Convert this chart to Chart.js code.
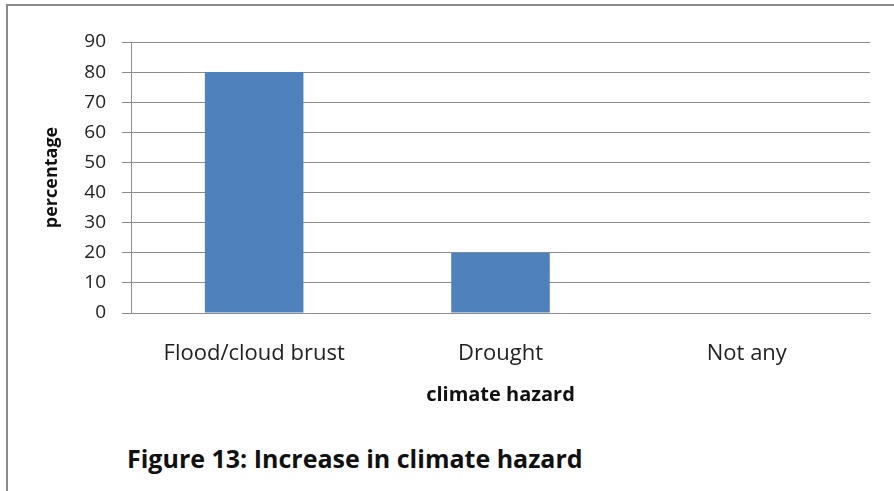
<!DOCTYPE html>
<html>
<head>
<meta charset="utf-8">
<title>Increase in climate hazard</title>
<script src="https://cdn.jsdelivr.net/npm/chart.js@4.4.0/dist/chart.umd.min.js"></script>
<style>
    html, body {
        margin: 0;
        padding: 0;
        background: #fff;
        width: 894px;
        height: 491px;
        overflow: hidden;
    }
    .frame {
        position: absolute;
        left: 6px;
        top: 4px;
        width: 900px;
        height: 500px;
        border-top: 2px solid #8a8a8a;
        border-left: 2px solid #8a8a8a;
    }
    .chart-box {
        position: absolute;
        left: 0;
        top: 0;
        width: 894px;
        height: 420px;
    }
    .caption {
        position: absolute;
        left: 127px;
        top: 446px;
        line-height: 25px;
        font-family: "Open Sans", sans-serif;
        font-weight: bold;
        font-size: 25px;
        color: #111;
        white-space: nowrap;
    }
</style>
</head>
<body>
<div class="frame"></div>
<div class="chart-box">
    <canvas id="hazardChart" width="894" height="420"></canvas>
</div>
<div class="caption">Figure 13: Increase in climate hazard</div>

<script>
const categories = ['Flood/cloud brust', 'Drought', 'Not any'];
const percentages = [80, 20, 0];
const yTicks = [0, 10, 20, 30, 40, 50, 60, 70, 80, 90];

const barColor = '#4F81BD';
const gridColor = '#8c8c8c';
const fontFamily = '"Open Sans", sans-serif';

function createHazardChart() {
    const ctx = document.getElementById('hazardChart').getContext('2d');

    new Chart(ctx, {
        type: 'bar',
        data: {
            labels: categories,
            datasets: [{
                label: 'percentage',
                data: percentages,
                backgroundColor: barColor,
                borderWidth: 0,
                categoryPercentage: 1,
                barPercentage: 0.4
            }]
        },
        options: {
            responsive: false,
            animation: false,
            events: [],
            layout: {
                padding: { top: 42, right: 24, bottom: 9, left: 37 }
            },
            plugins: {
                legend: { display: false },
                tooltip: { enabled: false }
            },
            scales: {
                x: {
                    grid: { display: false },
                    border: { display: true, color: gridColor, width: 1 },
                    ticks: {
                        color: '#222',
                        padding: 20,
                        font: { family: fontFamily, size: 22 }
                    },
                    title: {
                        display: true,
                        text: 'climate hazard',
                        color: '#111',
                        font: { family: fontFamily, size: 20, weight: 'bold' }
                    },
                    afterFit: function(scale) {
                        scale.height = 98;
                    }
                },
                y: {
                    min: yTicks[0],
                    max: yTicks[yTicks.length - 1],
                    afterBuildTicks: function(scale) {
                        scale.ticks = yTicks.map(v => ({ value: v }));
                    },
                    grid: {
                        color: gridColor,
                        lineWidth: 1,
                        tickLength: 9
                    },
                    border: { display: true, color: gridColor, width: 1 },
                    ticks: {
                        color: '#222',
                        padding: 16,
                        font: { family: fontFamily, size: 19 }
                    },
                    title: {
                        display: true,
                        text: 'percentage',
                        color: '#111',
                        font: { family: fontFamily, size: 18, weight: 'bold' }
                    },
                    afterFit: function(scale) {
                        scale.width = 94;
                    }
                }
            }
        }
    });
}

window.addEventListener('DOMContentLoaded', function() {
    createHazardChart();
});
</script>
</body>
</html>
